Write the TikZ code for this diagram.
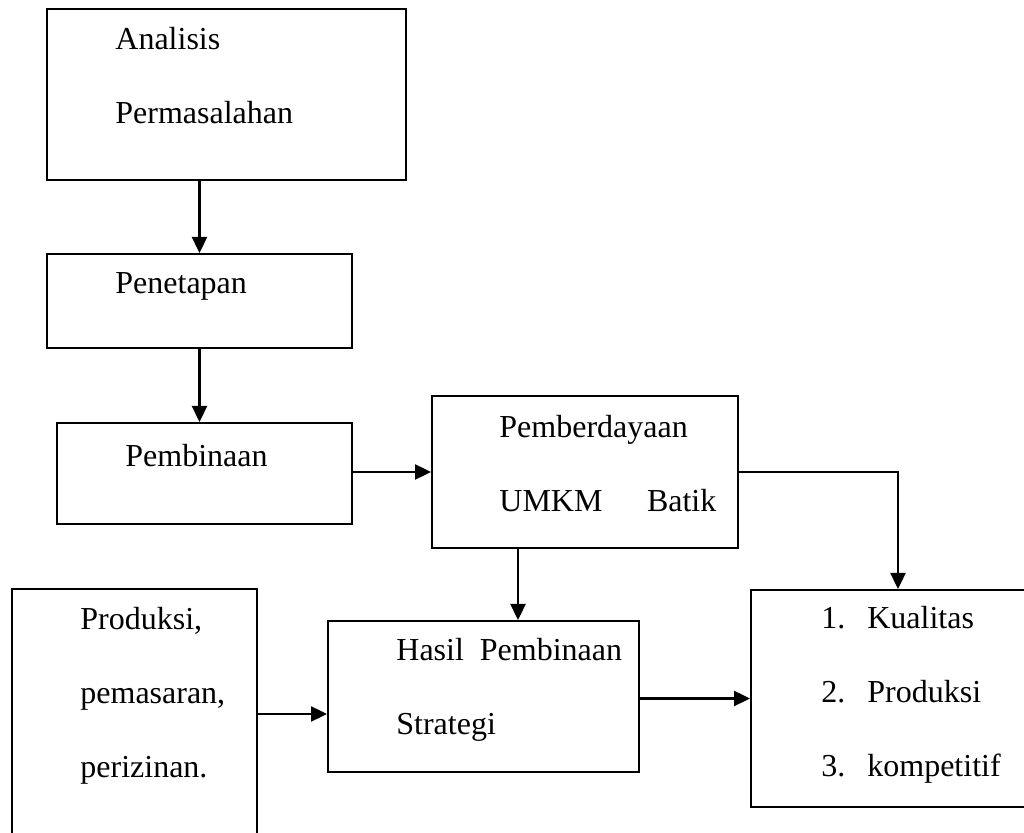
\documentclass[tikz,border=0pt]{standalone}
\usepackage{fontspec}
\setmainfont{Liberation Serif}
\usepackage{tikz}
\usetikzlibrary{positioning,arrows.meta}

\begin{document}
\begin{tikzpicture}[
x=0.5pt, y=-0.5pt,
boxnode/.style={rectangle, draw, line width=1pt, inner sep=0pt},
txtnode/.style={inner sep=0pt, align=left, font=\fontsize{16}{37}\selectfont},
arr/.style={line width=1.2pt, -{Triangle[length=8pt,width=7.5pt]}},
]
\clip (0,0) rectangle (1024,833);
%Nodes
\node[boxnode, minimum width=179.5pt, minimum height=85.5pt]  (analisis)     at (226.5,94.5) {};
\node[boxnode, minimum width=152.5pt, minimum height=47pt]    (penetapan)    at (199.5,301)  {};
\node[boxnode, minimum width=147.5pt, minimum height=50.5pt]  (pembinaan)    at (204.5,473.5) {};
\node[boxnode, minimum width=153pt,   minimum height=76pt]    (pemberdayaan) at (585,472)    {};
\node[boxnode, minimum width=122.5pt, minimum height=125pt]   (produksi)     at (134.5,714)  {};
\node[boxnode, minimum width=155.5pt, minimum height=75.5pt]  (hasil)        at (483.5,696.5) {};
\node[boxnode, minimum width=147pt,   minimum height=108.5pt] (capaian)      at (898,698.5)  {};

%Texts
\node[txtnode] (analisis-t)     [below right=9.5pt and 34.5pt of analisis.north west]     {Analisis\\Permasalahan};
\node[txtnode] (penetapan-t)    [below right=9.5pt and 34.5pt of penetapan.north west]    {Penetapan};
\node[txtnode] (pembinaan-t)    [below right=11pt and 34.5pt of pembinaan.north west]     {Pembinaan};
\node[txtnode] (pemberdayaan-t) [below right=10pt and 34pt of pemberdayaan.north west]    {Pemberdayaan\\\makebox[108.5pt][l]{UMKM\hfill Batik}};
\node[txtnode] (produksi-t)     [below right=9.5pt and 34.5pt of produksi.north west]     {Produksi,\\pemasaran,\\perizinan.};
\node[txtnode] (hasil-t)        [below right=9pt and 34.5pt of hasil.north west]          {Hasil\hspace{0.5em}Pembinaan\\Strategi};
\node[txtnode] (capaian-t)      [below right=8.5pt and 35.5pt of capaian.north west]      {\makebox[23pt][l]{1.}Kualitas\\\makebox[23pt][l]{2.}Produksi\\\makebox[23pt][l]{3.}kompetitif};

%Lines
\coordinate (pb-out) at ([xshift=-33.5pt]pemberdayaan.south);
\draw[arr] (penetapan.north |- analisis.south) -- (penetapan.north);
\draw[arr] (penetapan.south) -- (penetapan.south |- pembinaan.north);
\draw[arr] (pemberdayaan.west -| pembinaan.east) -- (pemberdayaan.west);
\draw[arr] (pemberdayaan.east) -| (capaian.north);
\draw[arr] (pb-out) -- (pb-out |- hasil.north);
\draw[arr] (produksi.east) -- (produksi.east -| hasil.west);
\draw[arr] (capaian.west -| hasil.east) -- (capaian.west);
\end{tikzpicture}
\end{document}
